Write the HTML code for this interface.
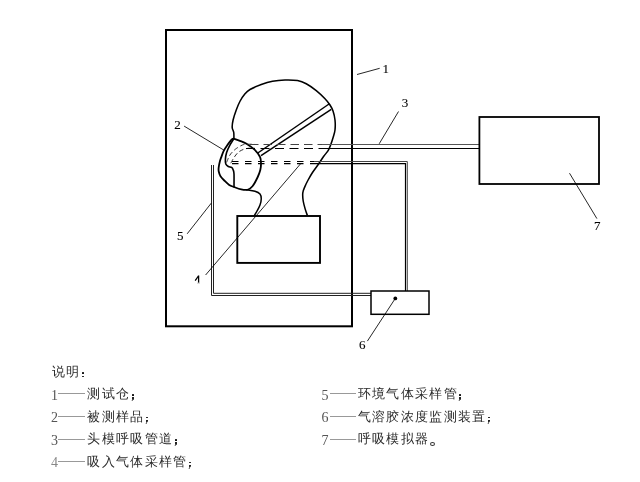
<!DOCTYPE html>
<html><head><meta charset="utf-8"><style>
html,body{margin:0;padding:0;background:#fff;width:640px;height:482px;overflow:hidden}
svg{position:absolute;left:0;top:0}
svg text{font-family:"Liberation Serif",serif;font-size:13px;fill:#000;stroke:#000;stroke-width:0.1}
body{will-change:transform}
.c,.n,.d{position:absolute;white-space:nowrap}
.c{font-family:"Liberation Serif",serif;font-size:13.00px;letter-spacing:1.32px;color:#2a2a2a;line-height:20px}
.n{font-family:"Liberation Serif",serif;font-size:14px;color:#555;line-height:20px}
.d{height:1px;background:#999}
.p{position:absolute;width:2px;height:1.8px;background:#111;border-radius:0.5px}
.cm{position:absolute;width:2px;height:2.5px;background:#222;border-radius:0 0 1px 0.5px;}
.cm:after{content:'';position:absolute;left:0.3px;top:2.3px;width:1.2px;height:1.6px;background:#555;transform:skewX(-20deg)}
.o{position:absolute;width:3px;height:2px;border:0.9px solid #333;border-radius:50%}
</style></head><body>
<svg width="640" height="482" viewBox="0 0 640 482">
<rect x="166" y="30" width="186" height="296.3" fill="none" stroke="#000" stroke-width="2"/>
<path d="M233.90,138.70 C233.88,137.67 234.03,134.37 233.75,132.50 C233.47,130.63 232.31,129.58 232.20,127.50 C232.09,125.42 232.42,122.92 233.10,120.00 C233.78,117.08 235.10,113.12 236.25,110.00 C237.40,106.88 238.54,103.96 240.00,101.25 C241.46,98.54 243.33,95.71 245.00,93.75 C246.67,91.79 247.29,91.04 250.00,89.50 C252.71,87.96 257.50,85.88 261.25,84.50 C265.00,83.12 268.54,82.00 272.50,81.25 C276.46,80.50 280.83,80.11 285.00,80.00 C289.17,79.89 293.96,79.97 297.50,80.60 C301.04,81.22 303.12,82.08 306.25,83.75 C309.38,85.42 313.12,88.10 316.25,90.60 C319.38,93.10 322.71,96.35 325.00,98.75 C327.29,101.15 328.65,102.92 330.00,105.00 C331.35,107.08 332.27,108.75 333.10,111.25 C333.93,113.75 334.68,116.88 335.00,120.00 C335.32,123.12 335.32,127.08 335.00,130.00 C334.68,132.92 333.83,135.00 333.10,137.50 C332.37,140.00 331.43,142.82 330.60,145.00 C329.77,147.18 329.24,148.72 328.10,150.60 C326.96,152.47 325.31,154.06 323.75,156.25 C322.19,158.44 320.62,161.04 318.75,163.75 C316.88,166.46 314.27,169.79 312.50,172.50 C310.73,175.21 309.37,177.65 308.10,180.00 C306.83,182.35 305.78,184.47 304.90,186.60 C304.02,188.73 303.08,190.40 302.80,192.80 C302.52,195.20 302.78,198.23 303.20,201.00 C303.62,203.77 304.60,206.98 305.30,209.40 C306.00,211.82 307.05,214.48 307.40,215.50" fill="none" stroke="#000" stroke-width="1.55"/>
<path d="M246.25,189.75 C247.71,190.00 252.71,190.54 255.00,191.25 C257.29,191.96 258.96,192.75 260.00,194.00 C261.04,195.25 261.25,196.92 261.25,198.75 C261.25,200.58 260.73,202.92 260.00,205.00 C259.27,207.08 257.90,209.42 256.90,211.25 C255.90,213.08 254.48,215.21 254.00,216.00" fill="none" stroke="#000" stroke-width="1.5"/>
<line x1="329.4" y1="103.75" x2="257.8" y2="153" stroke="#000" stroke-width="1.5"/>
<line x1="331.25" y1="109.4" x2="261" y2="155.6" stroke="#000" stroke-width="1.5"/>
<path d="M233.90,138.70 C234.90,139.05 237.80,139.97 239.90,140.80 C242.00,141.63 244.02,142.18 246.50,143.70 C248.98,145.22 252.53,147.65 254.80,149.90 C257.07,152.15 259.07,154.85 260.10,157.20 C261.13,159.55 260.97,161.87 261.00,164.00 C261.03,166.13 260.88,167.75 260.30,170.00 C259.72,172.25 258.80,174.79 257.50,177.50 C256.20,180.21 254.17,184.21 252.50,186.25 C250.83,188.29 249.38,189.22 247.50,189.75 C245.62,190.28 243.54,189.88 241.25,189.40 C238.96,188.93 235.76,187.65 233.75,186.90 C231.74,186.15 230.67,185.87 229.20,184.90 C227.72,183.93 226.35,182.55 224.90,181.10 C223.45,179.65 221.53,177.85 220.50,176.20 C219.47,174.55 219.00,172.67 218.70,171.20 C218.40,169.73 218.50,169.07 218.70,167.40 C218.90,165.73 219.48,162.87 219.90,161.20 C220.32,159.53 220.57,159.13 221.20,157.40 C221.83,155.67 222.67,152.87 223.70,150.80 C224.73,148.73 226.08,146.87 227.40,145.00 C228.72,143.13 230.52,140.65 231.60,139.60 C232.68,138.55 233.52,138.85 233.90,138.70" fill="none" stroke="#000" stroke-width="1.8"/>
<path d="M233.90,138.70 C233.72,138.98 233.53,139.22 232.80,140.40 C232.07,141.58 230.53,143.80 229.50,145.80 C228.47,147.80 227.28,150.18 226.60,152.40 C225.92,154.62 225.53,157.17 225.40,159.10 C225.27,161.03 225.32,162.77 225.80,164.00 C226.28,165.23 227.33,165.93 228.30,166.50 C229.27,167.07 230.78,166.83 231.60,167.40 C232.42,167.97 232.80,168.80 233.20,169.90 C233.60,171.00 233.87,171.17 234.00,174.00 C234.13,176.83 234.00,184.75 234.00,186.90" fill="none" stroke="#000" stroke-width="1.6"/>
<path d="M226.60,162.40 C227.08,161.28 228.47,157.50 229.50,155.70 C230.53,153.90 231.62,152.83 232.80,151.60 C233.98,150.37 235.00,149.40 236.60,148.30 C238.20,147.20 240.75,145.67 242.40,145.00 C244.05,144.33 244.43,144.42 246.50,144.30 C248.57,144.18 253.42,144.30 254.80,144.30" fill="none" stroke="#222" stroke-width="0.95" stroke-dasharray="4.5,2.8"/>
<path d="M230.80,163.20 C231.35,162.23 232.87,159.20 234.10,157.40 C235.33,155.60 236.68,153.72 238.20,152.40 C239.72,151.08 241.53,150.18 243.20,149.50 C244.87,148.82 246.27,148.50 248.20,148.30 C250.13,148.10 253.70,148.30 254.80,148.30" fill="none" stroke="#222" stroke-width="0.95" stroke-dasharray="4.5,2.8"/>
<path d="M250,144.5 H322" stroke="#444" stroke-width="1" stroke-dasharray="8.5,5" fill="none"/>
<path d="M246,148.5 H322" stroke="#000" stroke-width="1.2" stroke-dasharray="9,5.5" fill="none"/>
<path d="M322,144.5 H479" stroke="#555" stroke-width="1" fill="none"/>
<path d="M322,148.5 H479" stroke="#000" stroke-width="1.2" fill="none"/>
<path d="M232,161.5 H314" stroke="#000" stroke-width="1.1" stroke-dasharray="6.5,6.5" fill="none"/>
<path d="M232,163.6 H314" stroke="#000" stroke-width="1.1" stroke-dasharray="6.5,6.5" fill="none"/>
<path d="M314,161.5 H407.3 V291" stroke="#444" stroke-width="1" fill="none"/>
<path d="M314,163.6 H405.5 V291" stroke="#000" stroke-width="1.2" fill="none"/>
<path d="M211.5,165 V295.5 H371" stroke="#222" stroke-width="1" fill="none"/>
<path d="M213.5,165 V293.3 H371" stroke="#222" stroke-width="1" fill="none"/>
<rect x="237.3" y="216" width="82.7" height="46.9" fill="none" stroke="#000" stroke-width="1.9"/>
<rect x="371" y="291" width="58" height="23.3" fill="#fff" stroke="#000" stroke-width="1.5"/>
<circle cx="395.3" cy="298.4" r="1.9" fill="#000"/>
<rect x="479.4" y="117" width="119.6" height="67" fill="none" stroke="#000" stroke-width="1.8"/>
<line x1="357" y1="74.5" x2="379.7" y2="68.3" stroke="#000" stroke-width="0.85"/>
<line x1="184.1" y1="126.1" x2="224" y2="150.2" stroke="#000" stroke-width="0.85"/>
<line x1="398.5" y1="111.5" x2="379.2" y2="143.8" stroke="#000" stroke-width="0.85"/>
<line x1="300.6" y1="163.75" x2="205.6" y2="275" stroke="#000" stroke-width="0.85"/>
<line x1="187.2" y1="233.8" x2="211.3" y2="203.1" stroke="#000" stroke-width="0.85"/>
<line x1="367.4" y1="341.1" x2="395.3" y2="298.4" stroke="#000" stroke-width="0.85"/>
<line x1="569.5" y1="173.2" x2="596.9" y2="218.6" stroke="#000" stroke-width="0.85"/>
<text x="382.5" y="72.8">1</text>
<text x="174.3" y="129.2">2</text>
<text x="401.7" y="107.2">3</text>
<path d="M198.6,275.4 V282.8 M198.4,276 L195.2,280.6" stroke="#000" stroke-width="1.3" fill="none"/><path d="M197,283.2 H200" stroke="#bbb" stroke-width="0.8"/>
<text x="177" y="240.4">5</text>
<text x="359" y="348.8">6</text>
<text x="594" y="230">7</text>
</svg>
<div class="c" style="left:52.0px;top:361.6px">说明</div>
<div class="p" style="left:81.6px;top:372.4px"></div><div class="p" style="left:81.6px;top:375.6px"></div>
<div class="n" style="left:51.0px;top:385.5px;">1</div><div class="d" style="left:57.8px;top:393.0px;width:27.2px"></div><div class="c" style="left:87.4px;top:384.2px">测试仓</div><div class="p" style="left:131.6px;top:394.0px"></div><div class="cm" style="left:131.6px;top:397.0px"></div>
<div class="n" style="left:51.0px;top:408.0px;">2</div><div class="d" style="left:57.8px;top:416.0px;width:27.2px"></div><div class="c" style="left:87.4px;top:406.7px">被测样品</div><div class="p" style="left:145.9px;top:416.5px"></div><div class="cm" style="left:145.9px;top:419.5px"></div>
<div class="n" style="left:51.0px;top:430.5px;">3</div><div class="d" style="left:57.8px;top:439.0px;width:27.2px"></div><div class="c" style="left:87.4px;top:429.2px">头模呼吸管道</div><div class="p" style="left:174.5px;top:439.0px"></div><div class="cm" style="left:174.5px;top:442.0px"></div>
<div class="n" style="left:51.0px;top:453.0px;color:#888">4</div><div class="d" style="left:57.8px;top:461.0px;width:27.2px"></div><div class="c" style="left:87.4px;top:451.7px">吸入气体采样管</div><div class="p" style="left:188.8px;top:461.5px"></div><div class="cm" style="left:188.8px;top:464.5px"></div>
<div class="n" style="left:321.6px;top:385.5px;">5</div><div class="d" style="left:329.5px;top:393.0px;width:26.3px"></div><div class="c" style="left:357.8px;top:384.2px">环境气体采样管</div><div class="p" style="left:459.2px;top:394.0px"></div><div class="cm" style="left:459.2px;top:397.0px"></div>
<div class="n" style="left:321.6px;top:408.0px;">6</div><div class="d" style="left:329.5px;top:416.0px;width:26.3px"></div><div class="c" style="left:357.8px;top:406.7px">气溶胶浓度监测装置</div><div class="p" style="left:487.9px;top:416.5px"></div><div class="cm" style="left:487.9px;top:419.5px"></div>
<div class="n" style="left:321.6px;top:430.5px;">7</div><div class="d" style="left:329.5px;top:439.0px;width:26.3px"></div><div class="c" style="left:357.8px;top:429.2px">呼吸模拟器</div><div class="o" style="left:430.2px;top:441.6px"></div>
</body></html>
